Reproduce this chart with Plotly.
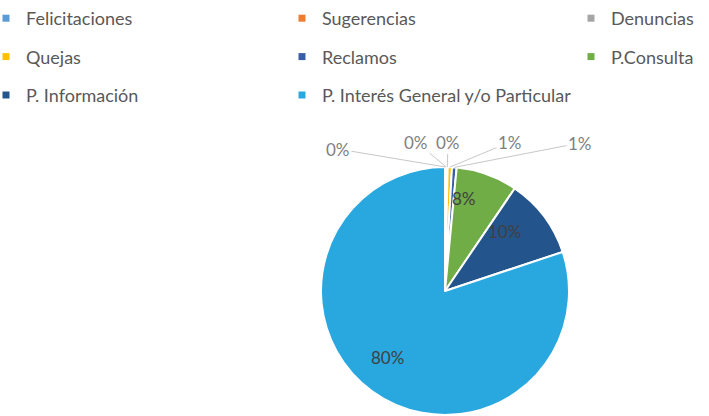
import math
import plotly.graph_objects as go

categories = ["Felicitaciones", "Sugerencias", "Denuncias", "Quejas", "Reclamos",
              "P.Consulta", "P. Información", "P. Interés General y/o Particular"]
values = [0.1, 0.15, 0.1, 0.55, 0.6, 8.0, 10.4, 80.1]
colors = ["#5B9BD5", "#ED7D31", "#A5A5A5", "#FFC000", "#3A5DA8",
          "#70AD47", "#23558C", "#29A8E0"]

# legend columns (row-major order in the original)
legend_cols = [
    ["Felicitaciones", "Quejas", "P. Información"],
    ["Sugerencias", "Reclamos", "P. Interés General y/o Particular"],
    ["Denuncias", "P.Consulta"],
]

W, H = 709, 416
CX, CY, R = 445, 291, 124          # pie centre / radius in pixels
# outside label placement (pixels) for the five tiny slices
outside_label_pos = [(338, 149), (416, 142), (448, 142), (510, 142), (580, 143)]
INSIDE_DIST = 0.79                 # inside labels, fraction of radius
legend_text_x = [26, 322, 611]     # where each legend column's text starts (px)

FONT = "Lato"
fig = go.Figure()

fig.add_trace(go.Pie(
    labels=categories, values=values, sort=False, direction="clockwise", rotation=0,
    marker=dict(colors=colors, line=dict(color="white", width=2)),
    textinfo="none",
    domain=dict(x=[(CX - R) / W, (CX + R) / W], y=[(H - CY - R) / H, (H - CY + R) / H]),
    showlegend=False, hoverinfo="label+percent",
))

# percentage labels computed from the data
total = sum(values)
cum = 0.0
annotations = []
k_out = 0
for v in values:
    mid = 2 * math.pi * (cum + v / 2) / total
    cum += v
    pct = f"{math.floor(100 * v / total + 0.5):.0f}%"
    if v / total < 0.02:
        tx = CX + R * math.sin(mid)
        ty = CY - R * math.cos(mid)
        lx, ly = outside_label_pos[k_out]
        k_out += 1
        annotations.append(dict(
            x=tx / W, y=1 - ty / H, xref="paper", yref="paper", text=pct,
            showarrow=True, arrowhead=0, arrowwidth=1, arrowcolor="#c8c8c8",
            ax=lx - tx, ay=ly - ty, axref="pixel", ayref="pixel", standoff=0,
            font=dict(family=FONT, size=17, color="#7f7f7f"),
        ))
    else:
        tx = CX + INSIDE_DIST * R * math.sin(mid)
        ty = CY - INSIDE_DIST * R * math.cos(mid)
        annotations.append(dict(
            x=tx / W, y=1 - ty / H, xref="paper", yref="paper", text=pct,
            showarrow=False, font=dict(family=FONT, size=17, color="#404040"),
        ))

legend_names = ["legend", "legend2", "legend3"]
for li, col in enumerate(legend_cols):
    for name in col:
        i = categories.index(name)
        fig.add_trace(go.Scatter(
            x=[None], y=[None], mode="markers", name=name,
            marker=dict(symbol="square", size=7, color=colors[i]),
            legend=legend_names[li], legendgroup=name, showlegend=True,
        ))

leg_common = dict(orientation="v", yanchor="top", xanchor="left", y=1.0,
                  bgcolor="rgba(0,0,0,0)", borderwidth=0, tracegroupgap=12,
                  font=dict(family=FONT, size=18, color="#595959"))
fig.update_layout(
    width=W, height=H,
    margin=dict(l=0, r=0, t=0, b=0, autoexpand=False),
    paper_bgcolor="white", plot_bgcolor="white",
    xaxis=dict(visible=False), yaxis=dict(visible=False),
    legend=dict(x=(legend_text_x[0] - 40) / W, **leg_common),
    legend2=dict(x=(legend_text_x[1] - 40) / W, **leg_common),
    legend3=dict(x=(legend_text_x[2] - 40) / W, **leg_common),
    annotations=annotations,
)
fig.write_html("out.html", config={"displayModeBar": False},
               post_script="document.body.style.margin='0px';")
